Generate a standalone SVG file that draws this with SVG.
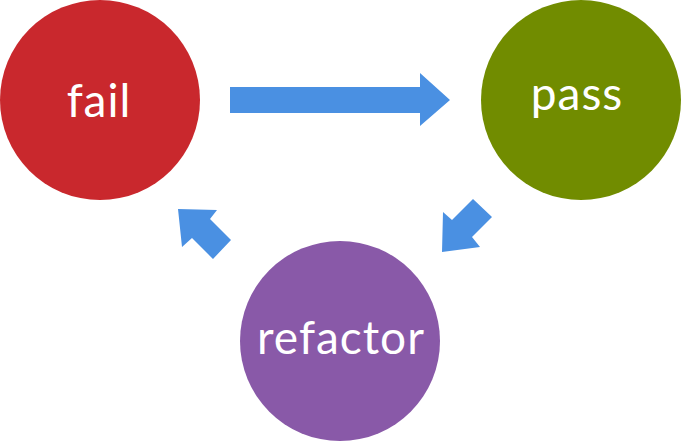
<svg xmlns="http://www.w3.org/2000/svg" width="682" height="442" viewBox="0 0 682 442">
<style>
.lbl{font-family:Lato,"Open Sans","Liberation Sans",sans-serif;font-size:46px;letter-spacing:1px;fill:#fff;text-anchor:middle}
.arr{fill:#4A90E2}
</style>
<rect width="682" height="442" fill="#fff"/>
<g id="fail"><circle cx="100" cy="100" r="100" fill="#C9282D"/><text class="lbl" x="99" y="117">fail</text></g>
<g id="pass"><circle cx="581" cy="100" r="100" fill="#718C00"/><text class="lbl" x="577" y="110">pass</text></g>
<g id="refactor"><circle cx="340" cy="341" r="100" fill="#8959A8"/><text class="lbl" x="341" y="354">refactor</text></g>
<g id="connectors">
<polygon class="arr" points="230,87 420,87 420,73 450,100 420,126 420,113 230,113"/>
<polygon class="arr" points="473,199 492,217 472,237 480,247 442,252 443,212 452,220"/>
<polygon class="arr" points="178,209 217,210 210,219 231,240 213,259 192,238 182,247"/>
</g>
</svg>
